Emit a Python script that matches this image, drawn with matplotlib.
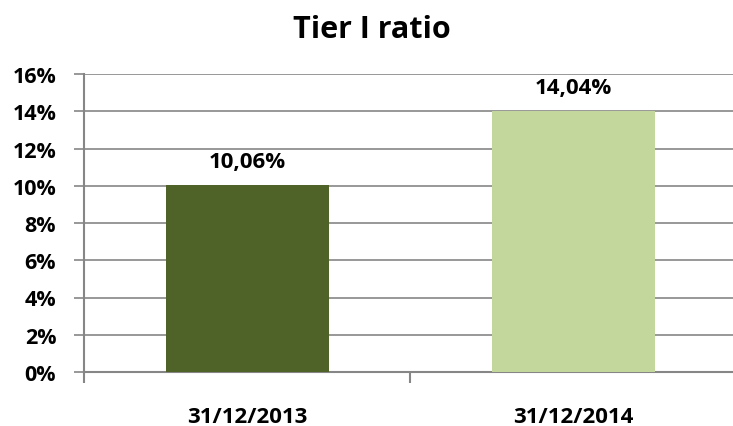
import matplotlib
matplotlib.use("Agg")
import matplotlib.pyplot as plt
from matplotlib.ticker import FixedLocator
from matplotlib.transforms import blended_transform_factory

categories = ["31/12/2013", "31/12/2014"]
values = [10.06, 14.04]
labels = ["10,06%", "14,04%"]
colors = ["#4F6228", "#C3D69B"]
yticks = [0, 2, 4, 6, 8, 10, 12, 14, 16]

plt.rcParams['font.family'] = ['Open Sans', 'DejaVu Sans']
fig = plt.figure(figsize=(7.33, 4.27), dpi=100)
ax = fig.add_axes([84/733, 1-373/427, 652/733, (373-75)/427])
x = list(range(len(categories)))
ax.bar(x, values, width=0.5, color=colors, zorder=3)
ax.set_xlim(-0.5, 1.5)
ax.set_ylim(0, 16)
ax.set_yticks(yticks)
ax.set_yticklabels([f"{t}%" for t in yticks], fontsize=15.5, fontweight='bold')
ax.yaxis.grid(True, color='#868686', lw=1.2, zorder=0)
ax.set_axisbelow(True)
for s in ['top', 'right']:
    ax.spines[s].set_visible(False)
for s in ['left', 'bottom']:
    ax.spines[s].set_color('#868686')
    ax.spines[s].set_linewidth(1.5)
ax.tick_params(axis='y', length=7, width=1.2, color='#868686', pad=13)
ax.set_xticks(x)
ax.set_xticklabels([])
ax.tick_params(axis='x', which='major', length=0)
ax.xaxis.set_minor_locator(FixedLocator([-0.5, 0.5, 1.5]))
ax.tick_params(axis='x', which='minor', length=8, width=1.5, color='#868686')
trans = blended_transform_factory(ax.transData, ax.transAxes)
for xi, cat in zip(x, categories):
    ax.text(xi, -(423 - 373) / 298, cat, transform=trans, ha='center', va='baseline',
            fontsize=16, fontweight='bold', clip_on=False)
for xi, v, lab in zip(x, values, labels):
    ax.text(xi, v + 0.95, lab, ha='center', va='baseline', fontsize=16, fontweight='bold')
fig.text(372/733, 1-38/427, "Tier I ratio", ha='center', va='baseline', fontsize=22, fontweight='bold')
fig.savefig("out.png", dpi=100)
